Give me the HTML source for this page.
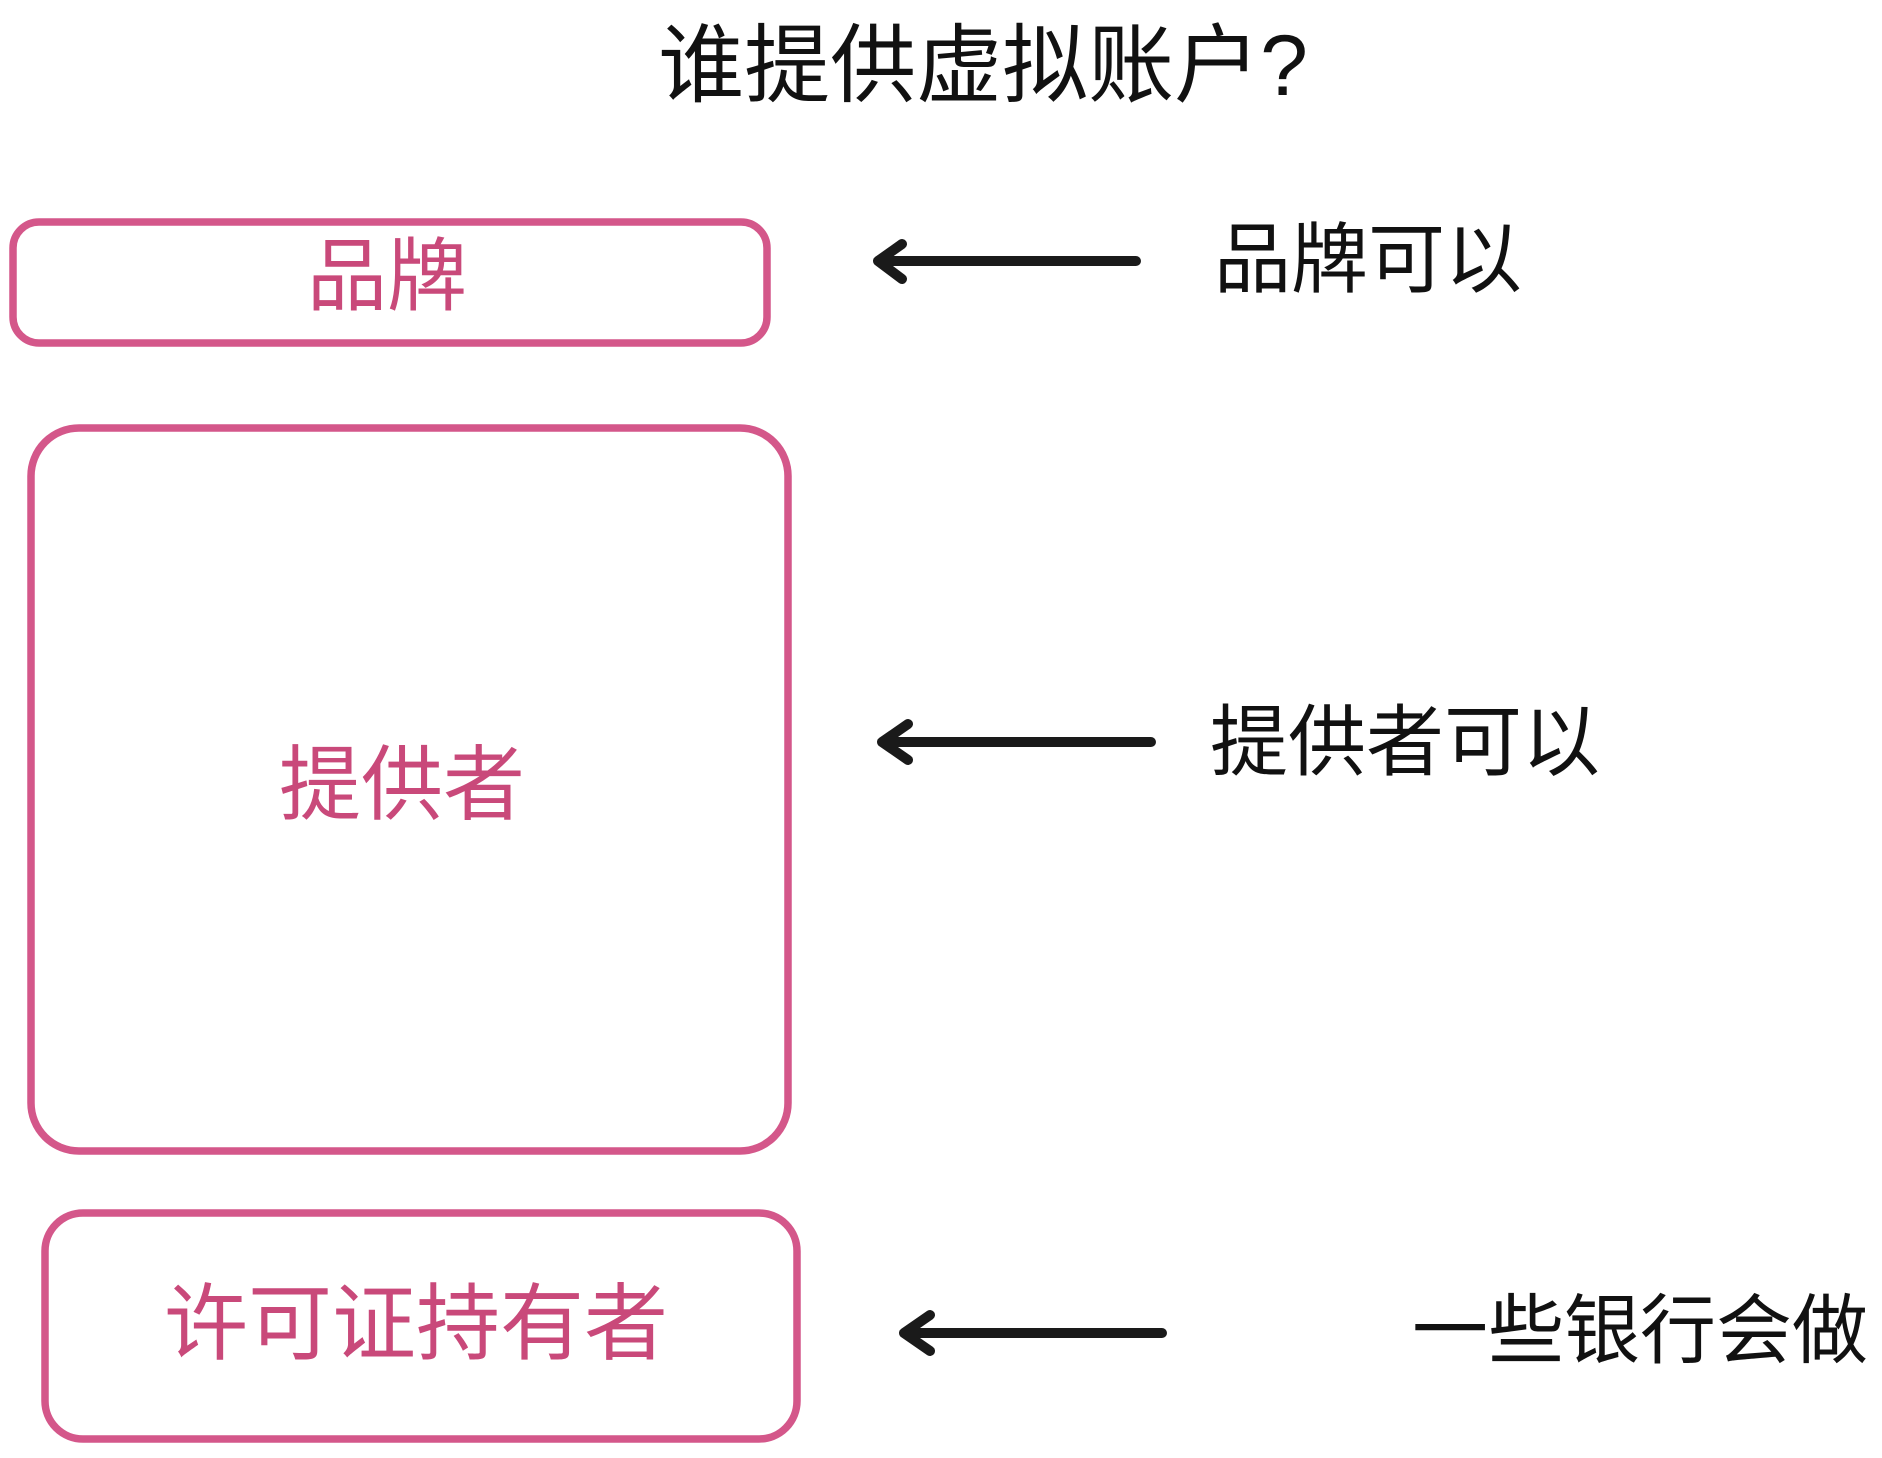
<!DOCTYPE html>
<html><head><meta charset="utf-8"><style>
html,body{margin:0;padding:0;background:#fff;}
body{width:1882px;height:1458px;position:relative;overflow:hidden;font-family:"Liberation Sans","Noto Sans CJK SC",sans-serif;}
.t{position:absolute;white-space:nowrap;line-height:1;transform:translate(-50%,-50%);font-weight:normal;}
.p{color:#c9497a;}
</style></head><body>
<svg width="1882" height="1458" style="position:absolute;left:0;top:0">
<g fill="none" stroke="#d4578a" stroke-width="7.5">
<rect x="13" y="222" width="754" height="121" rx="26"/>
<rect x="31" y="428" width="757" height="723" rx="48"/>
<rect x="45" y="1213" width="752" height="226" rx="38"/>
</g>
<g fill="none" stroke="#1a1a1a" stroke-width="10" stroke-linecap="round" stroke-linejoin="round">
<path d="M1136 261 L880 261 M902 244 L878 261 L902 279"/>
<path d="M1151 742 L884 742 M908 724 L882 742 L908 760"/>
<path d="M1162 1333 L906 1333 M930 1315 L904 1333 L930 1351"/>
</g>
</svg>
<div class="t" style="left:983px;top:66px;font-size:86px;color:#111;">谁提供虚拟账户?</div>
<div class="t p" style="left:387px;top:277px;font-size:80px;">品牌</div>
<div class="t p" style="left:402px;top:786px;font-size:82px;">提供者</div>
<div class="t p" style="left:416px;top:1324px;font-size:84px;">许可证持有者</div>
<div class="t" style="left:1368px;top:261px;font-size:77px;color:#111;">品牌可以</div>
<div class="t" style="left:1405px;top:742px;font-size:78px;color:#111;">提供者可以</div>
<div class="t" style="left:1640px;top:1332px;font-size:76px;color:#111;">一些银行会做</div>
</body></html>
